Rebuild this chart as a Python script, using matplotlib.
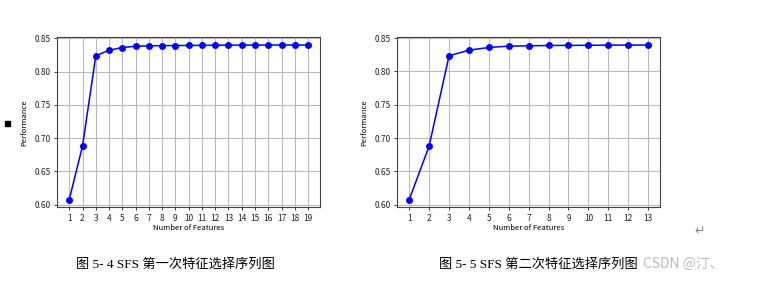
import matplotlib
matplotlib.use('Agg')
import matplotlib.pyplot as plt

plt.rcParams['font.family'] = ['Noto Sans CJK SC', 'DejaVu Sans']

# first SFS run, 19 features
n1 = list(range(1, 20))
perf1 = [0.6075, 0.688, 0.8235, 0.832, 0.836, 0.838, 0.8385, 0.839, 0.839, 0.8392,
         0.8393, 0.8395, 0.8396, 0.8397, 0.8397, 0.8398, 0.8398, 0.8398, 0.8398]
# second SFS run, 13 features
n2 = list(range(1, 14))
perf2 = [0.6075, 0.688, 0.8235, 0.832, 0.836, 0.838, 0.8385, 0.839, 0.8392, 0.8393,
         0.8395, 0.8396, 0.8397]

cap1 = '图 5- 4 SFS 第一次特征选择序列图'
cap2 = '图 5- 5 SFS 第二次特征选择序列图'
mark = 'CSDN @汀、'

fig = plt.figure(figsize=(7.62, 2.81), dpi=100)
W, H = 762, 281

def panel(left, x, y):
    ax = fig.add_axes([left / W, 1 - 207.3 / H, 262.7 / W, 170 / H])
    ax.plot(x, y, 'o-', color='blue', lw=1.1, ms=4)
    ax.set_xticks(x)
    ax.set_yticks([0.60, 0.65, 0.70, 0.75, 0.80, 0.85])
    ax.set_yticklabels(['0.60', '0.65', '0.70', '0.75', '0.80', '0.85'])
    ax.tick_params(labelsize=6, length=2.5, width=0.6, pad=2, colors='#222222')
    ax.grid(True, color='#bbbbbb', lw=0.8)
    for s in ax.spines.values():
        s.set_color('#444444')
        s.set_linewidth(0.8)
    ax.set_xlabel('Number of Features', fontsize=5.5, labelpad=1)
    ax.set_ylabel('Performance', fontsize=5.5, labelpad=5)
    return ax

panel(57.3, n1, perf1)
panel(397.3, n2, perf2)

capfont = ['Liberation Serif', 'Noto Sans CJK SC']
fig.text(175 / W, 1 - 265 / H, cap1, fontsize=9.5, family=capfont, ha='center', va='center')
fig.text(538 / W, 1 - 265 / H, cap2, fontsize=9.5, family=capfont, ha='center', va='center')
fig.text(643 / W, 1 - 264 / H, mark, fontsize=10, color='#bbbbbb', ha='left', va='center')
fig.text(700 / W, 1 - 231 / H, '↵', fontsize=9, color='#888888', family='DejaVu Sans',
         ha='center', va='center')
fig.patches.append(plt.Rectangle((5 / W, 1 - 126 / H), 5 / W, 5 / H, color='black',
                                 transform=fig.transFigure, figure=fig))

fig.savefig('out.png', dpi=100)
